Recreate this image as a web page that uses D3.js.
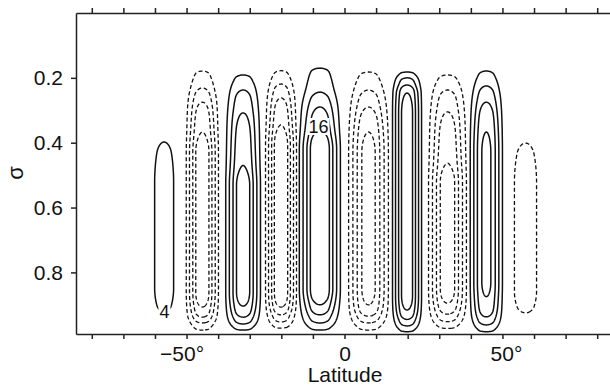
<!DOCTYPE html>
<html>
<head>
<meta charset="utf-8">
<script src="https://d3js.org/d3.v7.min.js"></script>
<style>
  html, body { margin: 0; background: #fff; overflow: hidden; }
  svg { display: block; overflow: hidden; font-family: "Liberation Sans", Arial, sans-serif; }
  .axis path, .axis line { stroke: #222; stroke-width: 1.5px; }
  .axis text { font-size: 21px; fill: #111; font-family: "Liberation Sans", Arial, sans-serif; }
  .solid { fill: none; stroke: #111; stroke-width: 1.5px; }
  .dashed { fill: none; stroke: #111; stroke-width: 1.3px; stroke-dasharray: 4 2.6; }
</style>
</head>
<body>
<svg id="chart" width="610" height="385"></svg>
<script>
// contour levels (solid = positive, dashed = negative)
const levels = [4, 8, 12, 16];

// circulation cells, south to north
const cellLat = [-57.1, -45.0, -32.1, -20.1, -7.8, 7.6, 19.8, 32.6, 44.9, 57.3];
// half width (deg) of the outermost contour at mid depth
const cellHalf = [3.0, 5.1, 5.5, 4.9, 6.5, 6.3, 4.6, 6.0, 5.1, 3.5];
const cellPeak = [6, -18.5, 18, -19, 20, -17.5, 18, -18, 17, -6];
// sigma where the cell vanishes aloft
const cellTop0 = [0.28, 0.14, 0.15, 0.14, 0.13, 0.14, 0.165, 0.15, 0.14, 0.28];
// sigma of the top / bottom of each contour (4, 8, 12, 16) at the cell centre
const cellTopCross = [
  [0.398],
  [0.179, 0.231, 0.275, 0.367],
  [0.191, 0.2375, 0.308, 0.47],
  [0.178, 0.219, 0.262, 0.345],
  [0.17, 0.244, 0.29, 0.36],
  [0.182, 0.2375, 0.29, 0.367],
  [0.182, 0.20, 0.222, 0.247],
  [0.191, 0.2375, 0.305, 0.463],
  [0.179, 0.225, 0.275, 0.367],
  [0.401]
];
const cellBotCross = [
  [0.922],
  [0.978, 0.956, 0.938, 0.907],
  [0.978, 0.959, 0.938, 0.904],
  [0.972, 0.953, 0.931, 0.907],
  [0.978, 0.956, 0.931, 0.90],
  [0.978, 0.956, 0.935, 0.90],
  [0.983, 0.965, 0.945, 0.916],
  [0.973, 0.952, 0.929, 0.895],
  [0.983, 0.962, 0.937, 0.875],
  [0.925]
];
// sigma range where the cell sits near its peak value
const cellPlateau = [
  [0.52, 0.85], [0.43, 0.86], [0.53, 0.86], [0.41, 0.86], [0.42, 0.85],
  [0.43, 0.85], [0.31, 0.87], [0.52, 0.85], [0.43, 0.83], [0.52, 0.86]
];
// across-cell shape: fraction of peak vs distance from cell edge (0) to centre (1)
const hProfileU = [0, 0.167, 0.34, 0.517, 0.683, 1];
const hProfileV = [0, 0.222, 0.444, 0.667, 0.889, 1];

const xTicks = d3.range(-80, 81, 10);
const xLabels = { "-50": "\u221250\u00b0", "0": "0", "50": "50\u00b0" };
const yTicks = [0.2, 0.4, 0.6, 0.8];

const svg = d3.select("#chart");
const plotLeft = 76, plotRight = 613, plotTop = 13, plotBottom = 334;

const x = d3.scaleLinear().domain([-85, 85]).range([plotLeft, plotRight]);
const y = d3.scaleLinear().domain([0, 0.99]).range([plotTop, plotBottom]);

// smooth monotone interpolation through read-off points (same slope rule as d3.curveMonotoneX)
function monotone(xs, ys, endSlope) {
  const n = xs.length;
  const sec = d3.range(n - 1).map(i => (ys[i + 1] - ys[i]) / (xs[i + 1] - xs[i]));
  const m = xs.map((_, i) => {
    if (i === 0) return sec[0];
    if (i === n - 1) return endSlope !== undefined ? endSlope : sec[n - 2];
    const h0 = xs[i] - xs[i - 1], h1 = xs[i + 1] - xs[i];
    const s0 = sec[i - 1], s1 = sec[i];
    const p = (s0 * h1 + s1 * h0) / (h0 + h1);
    return (Math.sign(s0) + Math.sign(s1)) * Math.min(Math.abs(s0), Math.abs(s1), 0.5 * Math.abs(p)) || 0;
  });
  const bis = d3.bisector(d => d).right;
  return function(t) {
    if (t <= xs[0]) return ys[0];
    if (t >= xs[n - 1]) return ys[n - 1];
    const i = Math.min(bis(xs, t) - 1, n - 2);
    const h = xs[i + 1] - xs[i], s = (t - xs[i]) / h;
    const s2 = s * s, s3 = s2 * s;
    return (2 * s3 - 3 * s2 + 1) * ys[i] + (s3 - 2 * s2 + s) * h * m[i] +
           (-2 * s3 + 3 * s2) * ys[i + 1] + (s3 - s2) * h * m[i + 1];
  };
}

// build the gridded streamfunction from the cells
const hShape = monotone(hProfileU, hProfileV, 0);
const hInverse = d3.scaleLinear().domain(hProfileV).range(hProfileU);

const cells = cellLat.map((lat, i) => {
  const peak = Math.abs(cellPeak[i]);
  const tops = cellTopCross[i];
  const bots = cellBotCross[i].slice().reverse();
  const lv = levels.slice(0, tops.length);
  const dom = [cellTop0[i], ...tops, cellPlateau[i][0], cellPlateau[i][1], ...bots, 1];
  const rng = [0, ...lv, peak, peak, ...lv.slice().reverse(), 0];
  return {
    lat: lat,
    sign: Math.sign(cellPeak[i]),
    width: cellHalf[i] / (1 - hInverse(levels[0] / peak)),
    v: monotone(dom, rng)
  };
});

const latStep = 0.25, sigStep = 0.0025;
const latMin = -75, latMax = 75;
const nx = Math.round((latMax - latMin) / latStep) + 1;
const ny = Math.round(1 / sigStep) + 1;
const psi = new Float64Array(nx * ny);
for (let j = 0; j < ny; j++) {
  const sig = j * sigStep;
  const vRow = cells.map(c => c.v(sig));
  for (let i = 0; i < nx; i++) {
    const lat = latMin + i * latStep;
    let best = 0;
    cells.forEach((c, k) => {
      const d = Math.abs(lat - c.lat);
      if (d >= c.width) return;
      const val = c.sign * hShape(1 - d / c.width) * vRow[k];
      if (Math.abs(val) > Math.abs(best)) best = val;
    });
    psi[j * nx + i] = best;
  }
}

const contours = d3.contours().size([nx, ny]).thresholds(levels);
const posC = contours(psi).filter(c => c.coordinates.length);
const negC = contours(psi.map(v => -v)).filter(c => c.coordinates.length);

const proj = d3.geoTransform({
  point: function(px, py) {
    this.stream.point(x(latMin + (px - 0.5) * latStep), y((py - 0.5) * sigStep));
  }
});
const path = d3.geoPath(proj);

const g = svg.append("g");

g.selectAll("path.solid")
  .data(posC)
  .join("path")
  .attr("class", "solid")
  .attr("d", path);

g.selectAll("path.dashed")
  .data(negC)
  .join("path")
  .attr("class", "dashed")
  .attr("d", path);

// contour labels
const contourLabels = [
  { text: "4", lat: -57.0, sig: 0.94 },
  { text: "16", lat: -8.2, sig: 0.37 }
];
contourLabels.forEach(l => {
  const w = l.text.length * 10 + 2;
  g.append("rect")
    .attr("x", x(l.lat) - w / 2)
    .attr("y", y(l.sig) - 15)
    .attr("width", w)
    .attr("height", 17)
    .attr("fill", "#fff");
  g.append("text")
    .attr("x", x(l.lat))
    .attr("y", y(l.sig))
    .attr("text-anchor", "middle")
    .attr("font-size", 18)
    .attr("fill", "#111")
    .text(l.text);
});

// keep the open right-hand side of the frame clear
svg.append("rect")
  .attr("x", 600).attr("y", plotTop + 1)
  .attr("width", 12).attr("height", plotBottom - plotTop - 2)
  .attr("fill", "#fff");

// axes
svg.append("g")
  .attr("class", "axis")
  .attr("transform", `translate(0,${plotTop})`)
  .call(d3.axisTop(x).tickValues(xTicks).tickSize(5).tickSizeOuter(0).tickFormat(""));

const xAxis = svg.append("g")
  .attr("class", "axis")
  .attr("transform", `translate(0,${plotBottom})`)
  .call(d3.axisBottom(x).tickValues(xTicks).tickSize(5).tickSizeOuter(0).tickPadding(7)
    .tickFormat(d => xLabels[d] || ""));
xAxis.selectAll(".tick text")
  .attr("dx", d => d === -50 ? -5 : d === 50 ? 3.5 : 0);

svg.append("g")
  .attr("class", "axis")
  .attr("transform", `translate(${plotLeft},0)`)
  .call(d3.axisLeft(y).tickValues(yTicks).tickSize(5).tickSizeOuter(0).tickPadding(8)
    .tickFormat(d3.format(".1f")));

svg.append("text")
  .attr("x", 345)
  .attr("y", 382)
  .attr("text-anchor", "middle")
  .attr("font-size", 21)
  .attr("fill", "#111")
  .text("Latitude");

svg.append("text")
  .attr("transform", "translate(23,173) rotate(-90)")
  .attr("text-anchor", "middle")
  .attr("font-size", 22)
  .attr("fill", "#111")
  .text("\u03c3");
</script>
</body>
</html>
